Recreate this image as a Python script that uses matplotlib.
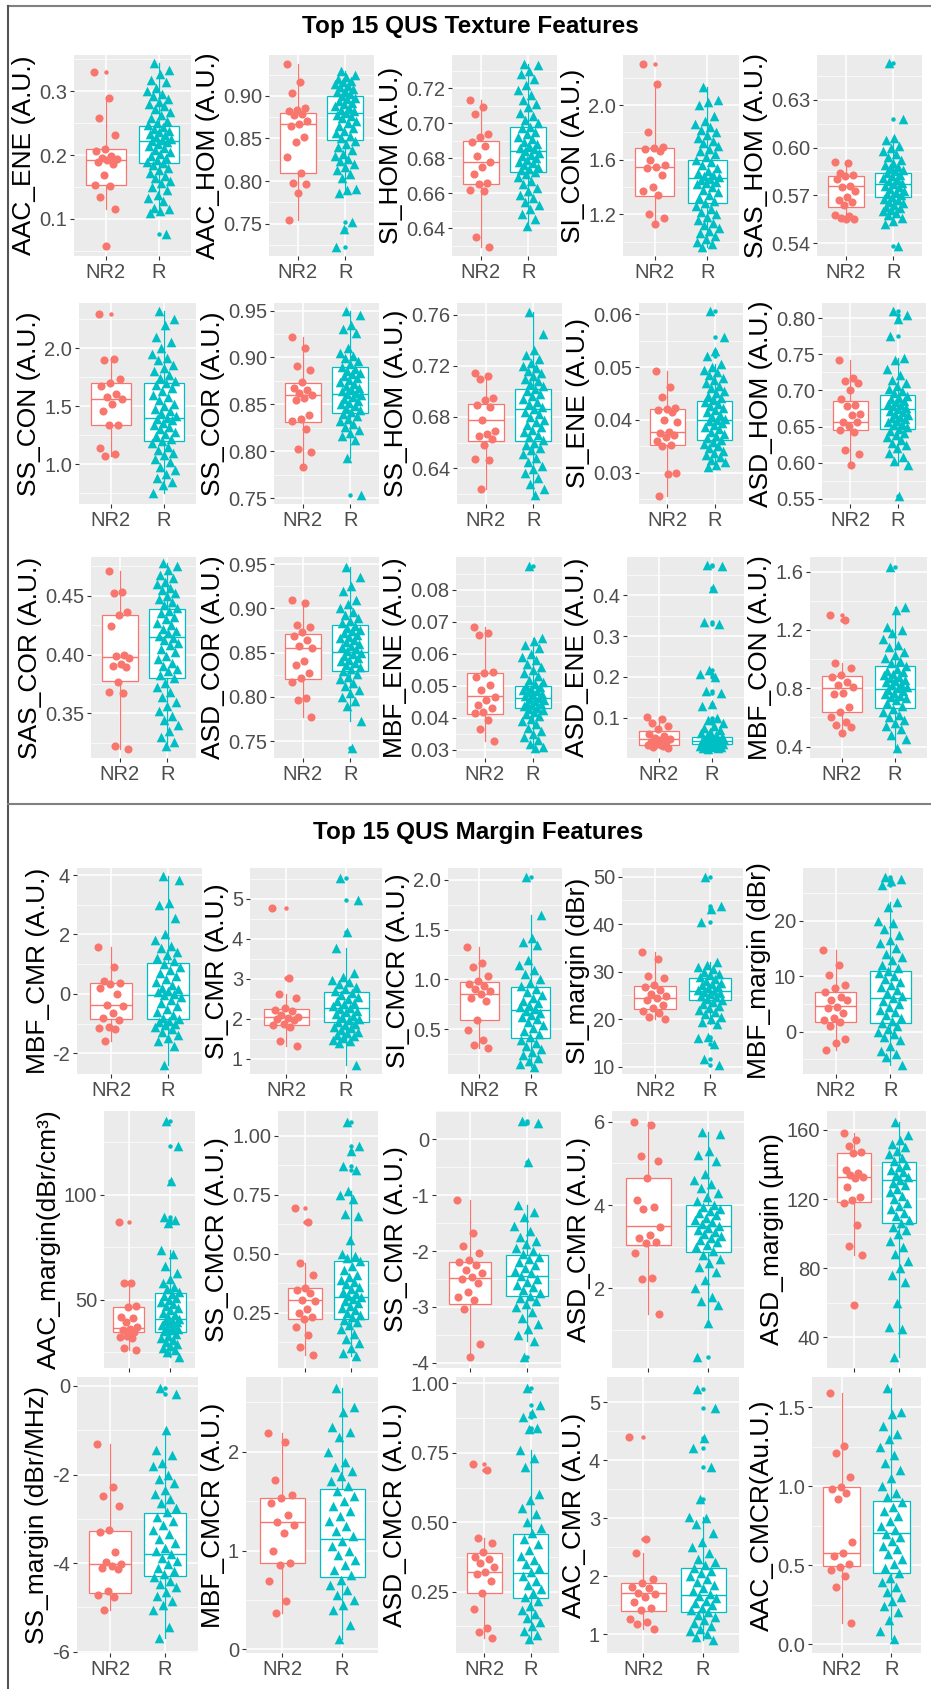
import numpy as np
import matplotlib
matplotlib.use("Agg")
import matplotlib.pyplot as plt
from matplotlib.lines import Line2D

plt.rcParams["font.family"] = ["Liberation Sans", "DejaVu Sans"]

groups = ["NR2", "R"]
NR2_COLOR = "#F8766D"
R_COLOR = "#00BFC4"

# box stats are (lower whisker, q1, median, q3, upper whisker) for NR2 and R

# ---------------- texture features ----------------
aac_ene_nr2 = [0.330, 0.289, 0.258, 0.232, 0.210, 0.206, 0.199, 0.196, 0.194, 0.192, 0.190, 0.186,
               0.169, 0.154, 0.152, 0.134, 0.116, 0.058]
aac_ene_r = [0.344, 0.333, 0.328, 0.318, 0.315, 0.305, 0.300, 0.296, 0.292, 0.288, 0.283, 0.280, 0.277,
             0.272, 0.268, 0.263, 0.258, 0.254, 0.250, 0.247, 0.244, 0.241, 0.238, 0.236, 0.233, 0.231,
             0.228, 0.226, 0.224, 0.222, 0.220, 0.217, 0.214, 0.211, 0.208, 0.205, 0.202, 0.199, 0.196,
             0.193, 0.190, 0.187, 0.184, 0.180, 0.176, 0.172, 0.168, 0.164, 0.160, 0.156, 0.150, 0.145,
             0.138, 0.133, 0.128, 0.118, 0.115, 0.113, 0.110, 0.076]
aac_ene_box = [(0.116, 0.154, 0.193, 0.209, 0.289), (0.110, 0.187, 0.223, 0.245, 0.344)]

aac_hom_nr2 = [0.937, 0.916, 0.903, 0.886, 0.884, 0.882, 0.879, 0.877, 0.871, 0.867, 0.865, 0.852,
               0.846, 0.828, 0.809, 0.798, 0.797, 0.786, 0.754]
aac_hom_r = [0.929, 0.925, 0.922, 0.920, 0.918, 0.916, 0.914, 0.912, 0.910, 0.908, 0.906, 0.904, 0.902,
             0.900, 0.898, 0.896, 0.894, 0.892, 0.890, 0.888, 0.886, 0.884, 0.882, 0.880, 0.878, 0.876,
             0.874, 0.871, 0.868, 0.865, 0.862, 0.859, 0.856, 0.853, 0.850, 0.847, 0.844, 0.840, 0.836,
             0.832, 0.829, 0.826, 0.823, 0.820, 0.817, 0.813, 0.808, 0.803, 0.791, 0.789, 0.786, 0.752,
             0.744, 0.722]
aac_hom_box = [(0.754, 0.809, 0.867, 0.880, 0.937), (0.786, 0.848, 0.880, 0.900, 0.929)]

si_hom_nr2 = [0.713, 0.709, 0.705, 0.694, 0.692, 0.689, 0.687, 0.681, 0.678, 0.675, 0.671, 0.666,
              0.665, 0.662, 0.661, 0.635, 0.629]
si_hom_r = [0.734, 0.733, 0.730, 0.728, 0.725, 0.722, 0.719, 0.716, 0.713, 0.711, 0.709, 0.706, 0.704,
            0.702, 0.700, 0.698, 0.697, 0.695, 0.694, 0.692, 0.691, 0.689, 0.688, 0.687, 0.686, 0.685,
            0.684, 0.683, 0.682, 0.681, 0.680, 0.679, 0.678, 0.677, 0.676, 0.675, 0.674, 0.673, 0.672,
            0.671, 0.669, 0.667, 0.665, 0.663, 0.661, 0.659, 0.657, 0.655, 0.653, 0.651, 0.648, 0.645,
            0.641]
si_hom_box = [(0.629, 0.665, 0.6775, 0.690, 0.713), (0.641, 0.672, 0.684, 0.698, 0.734)]

si_con_nr2 = [2.30, 2.154, 1.80, 1.69, 1.685, 1.68, 1.66, 1.60, 1.56, 1.545, 1.54, 1.49, 1.40, 1.37,
              1.34, 1.20, 1.17, 1.13]
si_con_r = [2.13, 2.04, 2.02, 2.00, 1.92, 1.88, 1.86, 1.84, 1.82, 1.80, 1.78, 1.76, 1.74, 1.72, 1.70,
            1.68, 1.66, 1.64, 1.62, 1.60, 1.58, 1.56, 1.54, 1.52, 1.50, 1.49, 1.48, 1.47, 1.46, 1.45,
            1.44, 1.43, 1.42, 1.40, 1.38, 1.36, 1.34, 1.32, 1.30, 1.28, 1.26, 1.24, 1.22, 1.20, 1.18,
            1.16, 1.14, 1.12, 1.10, 1.08, 1.06, 1.04, 1.02, 1.00, 0.98, 0.96]
si_con_box = [(1.13, 1.337, 1.544, 1.688, 2.154), (0.96, 1.285, 1.463, 1.598, 2.13)]

sas_hom_nr2 = [0.591, 0.590, 0.584, 0.583, 0.582, 0.580, 0.576, 0.575, 0.573, 0.569, 0.567, 0.566,
               0.564, 0.558, 0.557, 0.556, 0.555, 0.555]
sas_hom_r = [0.653, 0.618, 0.606, 0.605, 0.601, 0.600, 0.598, 0.596, 0.594, 0.592, 0.590, 0.589, 0.588,
             0.587, 0.586, 0.585, 0.584, 0.583, 0.582, 0.581, 0.580, 0.579, 0.578, 0.577, 0.576, 0.575,
             0.574, 0.573, 0.572, 0.571, 0.570, 0.569, 0.568, 0.567, 0.566, 0.565, 0.564, 0.563, 0.562,
             0.561, 0.560, 0.559, 0.558, 0.556, 0.554, 0.552, 0.538]
sas_hom_box = [(0.555, 0.563, 0.576, 0.582, 0.591), (0.552, 0.569, 0.577, 0.584, 0.606)]

ss_con_nr2 = [2.293, 1.91, 1.90, 1.733, 1.70, 1.675, 1.61, 1.58, 1.56, 1.52, 1.46, 1.34, 1.335, 1.14,
              1.09, 1.075]
ss_con_r = [2.32, 2.25, 2.20, 2.10, 2.05, 2.00, 1.95, 1.92, 1.90, 1.86, 1.83, 1.80, 1.77, 1.74, 1.72,
            1.70, 1.68, 1.66, 1.63, 1.60, 1.58, 1.55, 1.52, 1.50, 1.48, 1.46, 1.44, 1.42, 1.40, 1.39,
            1.38, 1.36, 1.34, 1.32, 1.30, 1.28, 1.26, 1.24, 1.22, 1.20, 1.18, 1.15, 1.12, 1.10, 1.08,
            1.05, 1.02, 0.98, 0.95, 0.92, 0.88, 0.85, 0.82, 0.75]
ss_con_box = [(1.075, 1.339, 1.56, 1.70, 1.91), (0.75, 1.204, 1.396, 1.70, 2.32)]

ss_cor_nr2 = [0.922, 0.910, 0.891, 0.887, 0.874, 0.868, 0.865, 0.862, 0.860, 0.857, 0.855, 0.839,
              0.834, 0.832, 0.824, 0.803, 0.799, 0.783]
ss_cor_r = [0.950, 0.945, 0.935, 0.930, 0.926, 0.910, 0.905, 0.902, 0.899, 0.896, 0.893, 0.890, 0.888,
            0.886, 0.884, 0.882, 0.880, 0.878, 0.876, 0.874, 0.872, 0.870, 0.868, 0.866, 0.864, 0.862,
            0.861, 0.860, 0.858, 0.856, 0.854, 0.852, 0.850, 0.848, 0.846, 0.844, 0.842, 0.840, 0.838,
            0.835, 0.832, 0.829, 0.826, 0.823, 0.820, 0.816, 0.812, 0.793, 0.754]
ss_cor_box = [(0.783, 0.831, 0.860, 0.873, 0.922), (0.793, 0.841, 0.861, 0.890, 0.950)]

ss_hom_nr2 = [0.714, 0.712, 0.710, 0.695, 0.693, 0.689, 0.688, 0.678, 0.669, 0.667, 0.665, 0.663,
              0.658, 0.647, 0.646, 0.624]
ss_hom_r = [0.762, 0.745, 0.732, 0.728, 0.725, 0.722, 0.720, 0.718, 0.716, 0.714, 0.712, 0.710, 0.708,
            0.706, 0.704, 0.702, 0.700, 0.698, 0.696, 0.694, 0.692, 0.690, 0.688, 0.686, 0.684, 0.682,
            0.680, 0.678, 0.676, 0.674, 0.672, 0.670, 0.668, 0.666, 0.664, 0.662, 0.660, 0.658, 0.656,
            0.654, 0.651, 0.648, 0.645, 0.642, 0.639, 0.636, 0.632, 0.628, 0.624, 0.619]
ss_hom_box = [(0.624, 0.661, 0.678, 0.690, 0.714), (0.619, 0.661, 0.686, 0.702, 0.762)]

si_ene_nr2 = [0.0493, 0.0462, 0.0444, 0.0422, 0.0420, 0.0418, 0.0414, 0.0400, 0.0396, 0.0377, 0.0375,
              0.0371, 0.0368, 0.0360, 0.0352, 0.0350, 0.0300, 0.0297, 0.0256]
si_ene_r = [0.0605, 0.0556, 0.0530, 0.0520, 0.0505, 0.0500, 0.0495, 0.0490, 0.0485, 0.0480, 0.0475,
            0.0470, 0.0465, 0.0460, 0.0455, 0.0450, 0.0446, 0.0442, 0.0438, 0.0434, 0.0430, 0.0426,
            0.0422, 0.0418, 0.0414, 0.0410, 0.0406, 0.0402, 0.0400, 0.0398, 0.0394, 0.0390, 0.0386,
            0.0382, 0.0378, 0.0374, 0.0370, 0.0366, 0.0362, 0.0358, 0.0354, 0.0350, 0.0346, 0.0342,
            0.0338, 0.0334, 0.0330, 0.0325, 0.0320, 0.0315, 0.0311]
si_ene_box = [(0.0256, 0.0352, 0.0377, 0.0420, 0.0493), (0.0311, 0.0362, 0.0400, 0.0436, 0.0505)]

asd_hom_nr2 = [0.742, 0.717, 0.713, 0.710, 0.701, 0.688, 0.680, 0.678, 0.668, 0.666, 0.657, 0.656,
               0.651, 0.646, 0.643, 0.617, 0.612, 0.597]
asd_hom_r = [0.810, 0.805, 0.799, 0.776, 0.745, 0.742, 0.730, 0.722, 0.715, 0.710, 0.706, 0.702, 0.699,
             0.696, 0.693, 0.690, 0.688, 0.686, 0.684, 0.682, 0.680, 0.678, 0.676, 0.674, 0.672, 0.670,
             0.668, 0.666, 0.664, 0.662, 0.660, 0.658, 0.656, 0.654, 0.652, 0.650, 0.647, 0.644, 0.641,
             0.638, 0.635, 0.632, 0.628, 0.624, 0.620, 0.614, 0.608, 0.602, 0.597, 0.554]
asd_hom_box = [(0.597, 0.6455, 0.6565, 0.686, 0.742), (0.597, 0.647, 0.674, 0.694, 0.745)]

sas_cor_nr2 = [0.471, 0.453, 0.452, 0.436, 0.434, 0.424, 0.400, 0.399, 0.397, 0.392, 0.390, 0.389,
               0.377, 0.368, 0.367, 0.322, 0.320]
sas_cor_r = [0.478, 0.475, 0.472, 0.468, 0.465, 0.462, 0.460, 0.457, 0.455, 0.452, 0.450, 0.447, 0.445,
             0.442, 0.440, 0.437, 0.435, 0.432, 0.430, 0.427, 0.425, 0.422, 0.420, 0.418, 0.416, 0.414,
             0.412, 0.410, 0.408, 0.405, 0.402, 0.399, 0.396, 0.393, 0.390, 0.388, 0.386, 0.383, 0.380,
             0.376, 0.372, 0.368, 0.364, 0.360, 0.356, 0.352, 0.348, 0.344, 0.340, 0.335, 0.330, 0.326,
             0.322]
sas_cor_box = [(0.320, 0.3775, 0.398, 0.434, 0.471), (0.322, 0.380, 0.415, 0.4386, 0.478)]

asd_cor_nr2 = [0.909, 0.906, 0.881, 0.879, 0.873, 0.869, 0.864, 0.857, 0.855, 0.840, 0.836, 0.827,
               0.821, 0.817, 0.799, 0.797, 0.777]
asd_cor_r = [0.947, 0.935, 0.925, 0.920, 0.910, 0.905, 0.900, 0.896, 0.892, 0.889, 0.886, 0.883, 0.880,
             0.878, 0.876, 0.874, 0.872, 0.870, 0.868, 0.866, 0.864, 0.862, 0.860, 0.858, 0.856, 0.854,
             0.852, 0.850, 0.848, 0.846, 0.844, 0.842, 0.840, 0.838, 0.836, 0.834, 0.832, 0.829, 0.826,
             0.823, 0.820, 0.816, 0.812, 0.808, 0.804, 0.800, 0.795, 0.790, 0.773, 0.742]
asd_cor_box = [(0.777, 0.820, 0.8557, 0.871, 0.909), (0.773, 0.829, 0.851, 0.881, 0.947)]

mbf_ene_nr2 = [0.0685, 0.0667, 0.0660, 0.0545, 0.0541, 0.0529, 0.0503, 0.0488, 0.0467, 0.0456, 0.0440,
               0.0430, 0.0420, 0.0415, 0.0394, 0.0365, 0.0329]
mbf_ene_r = [0.0876, 0.0650, 0.0640, 0.0628, 0.0618, 0.0600, 0.0590, 0.0580, 0.0570, 0.0560, 0.0550,
             0.0540, 0.0530, 0.0520, 0.0512, 0.0505, 0.0500, 0.0496, 0.0492, 0.0488, 0.0484, 0.0480,
             0.0476, 0.0472, 0.0468, 0.0464, 0.0460, 0.0456, 0.0452, 0.0448, 0.0444, 0.0440, 0.0436,
             0.0432, 0.0428, 0.0424, 0.0418, 0.0412, 0.0405, 0.0398, 0.0390, 0.0380, 0.0370, 0.0360,
             0.0350, 0.0340, 0.0330, 0.0320, 0.0310, 0.0305]
mbf_ene_box = [(0.0329, 0.0413, 0.0469, 0.0542, 0.0685), (0.0305, 0.0432, 0.0461, 0.0500, 0.0650)]

asd_ene_nr2 = [0.101, 0.097, 0.087, 0.081, 0.073, 0.061, 0.055, 0.051, 0.049, 0.046, 0.042, 0.040,
               0.036, 0.033, 0.031, 0.029, 0.027]
asd_ene_r = [0.474, 0.470, 0.418, 0.335, 0.330, 0.218, 0.208, 0.200, 0.165, 0.160, 0.134, 0.128, 0.100,
             0.095, 0.088, 0.080, 0.075, 0.070, 0.066, 0.062, 0.058, 0.055, 0.053, 0.051, 0.049, 0.047,
             0.046, 0.045, 0.044, 0.043, 0.042, 0.041, 0.040, 0.039, 0.038, 0.037, 0.036, 0.035, 0.034,
             0.033, 0.032, 0.031, 0.030, 0.029, 0.028, 0.027, 0.026, 0.025]
asd_ene_box = [(0.027, 0.0345, 0.0484, 0.067, 0.101), (0.025, 0.036, 0.0443, 0.054, 0.080)]

mbf_con_nr2 = [1.303, 1.269, 0.971, 0.937, 0.891, 0.876, 0.846, 0.823, 0.811, 0.770, 0.761, 0.670,
               0.640, 0.606, 0.571, 0.549, 0.537, 0.491]
mbf_con_r = [1.634, 1.36, 1.34, 1.22, 1.20, 1.18, 1.14, 1.10, 1.08, 1.05, 1.03, 1.01, 0.99, 0.97, 0.95,
             0.93, 0.92, 0.91, 0.90, 0.89, 0.88, 0.87, 0.86, 0.85, 0.84, 0.83, 0.82, 0.81, 0.80, 0.79,
             0.78, 0.77, 0.76, 0.75, 0.74, 0.73, 0.72, 0.70, 0.68, 0.66, 0.64, 0.62, 0.60, 0.58, 0.56,
             0.54, 0.52, 0.48, 0.45, 0.39]
mbf_con_box = [(0.491, 0.640, 0.80, 0.887, 0.971), (0.39, 0.663, 0.793, 0.955, 1.36)]

# ---------------- margin features ----------------
mbf_cmr_nr2 = [1.59, 0.89, 0.43, 0.38, 0.33, 0.19, 0.00, -0.37, -0.41, -0.66, -0.82, -0.88, -1.13,
               -1.16, -1.19, -1.58]
mbf_cmr_r = [3.97, 3.82, 3.05, 3.00, 2.55, 2.00, 1.80, 1.60, 1.55, 1.40, 1.30, 1.20, 1.10, 1.00, 0.90,
             0.80, 0.70, 0.60, 0.50, 0.40, 0.30, 0.20, 0.15, 0.10, 0.05, 0.00, -0.05, -0.10, -0.20,
             -0.30, -0.40, -0.50, -0.60, -0.70, -0.80, -0.85, -0.90, -0.95, -1.00, -1.05, -1.10, -1.20,
             -1.30, -1.40, -1.50, -1.60, -1.75, -2.39]
mbf_cmr_box = [(-1.58, -0.857, -0.37, 0.354, 1.59), (-2.39, -0.857, -0.04, 1.027, 3.97)]

si_cmr_nr2 = [4.78, 3.02, 2.63, 2.52, 2.26, 2.22, 2.20, 2.10, 2.05, 2.02, 1.99, 1.97, 1.88, 1.85, 1.80,
              1.45, 1.33]
si_cmr_r = [5.52, 4.98, 4.17, 3.76, 3.15, 3.05, 2.98, 2.92, 2.86, 2.80, 2.75, 2.70, 2.65, 2.60, 2.55,
            2.50, 2.45, 2.40, 2.36, 2.32, 2.28, 2.24, 2.20, 2.16, 2.12, 2.08, 2.04, 2.00, 1.96, 1.92,
            1.88, 1.84, 1.80, 1.76, 1.72, 1.68, 1.64, 1.60, 1.56, 1.52, 1.48, 1.44, 1.40, 0.84]
si_cmr_box = [(1.33, 1.84, 2.05, 2.24, 2.63), (0.84, 1.91, 2.26, 2.667, 3.76)]

si_cmcr_nr2 = [1.33, 1.17, 1.13, 1.03, 0.98, 0.95, 0.93, 0.90, 0.88, 0.85, 0.81, 0.78, 0.59, 0.49, 0.39,
               0.34, 0.31]
si_cmcr_r = [2.03, 1.65, 1.42, 1.38, 1.35, 1.20, 1.15, 1.10, 1.05, 1.00, 0.96, 0.93, 0.90, 0.87, 0.84,
             0.81, 0.78, 0.76, 0.74, 0.72, 0.70, 0.68, 0.66, 0.64, 0.62, 0.60, 0.57, 0.54, 0.51, 0.48,
             0.45, 0.42, 0.39, 0.36, 0.33, 0.30, 0.27, 0.24, 0.21, 0.18, 0.15, 0.12]
si_cmcr_box = [(0.31, 0.593, 0.855, 0.979, 1.33), (0.12, 0.41, 0.694, 0.928, 1.65)]

si_margin_nr2 = [34.1, 32.7, 29.0, 28.6, 27.1, 26.7, 26.1, 25.4, 24.9, 24.5, 24.0, 23.0, 22.3, 21.8,
                 21.2, 20.5, 20.0]
si_margin_r = [49.9, 43.9, 43.3, 40.5, 32.0, 31.5, 31.0, 30.5, 30.0, 29.6, 29.2, 28.8, 28.4, 28.0, 27.7,
               27.4, 27.1, 26.8, 26.5, 26.2, 26.0, 25.8, 25.5, 25.2, 24.9, 24.6, 24.3, 24.0, 23.6, 23.2,
               22.8, 22.4, 22.0, 21.5, 21.0, 20.5, 20.0, 19.5, 19.0, 16.3, 16.0, 14.8, 11.7, 10.4]
si_margin_box = [(20.0, 22.07, 24.5, 27.05, 34.1), (19.0, 24.03, 26.0, 28.73, 32.0)]

mbf_margin_nr2 = [14.7, 12.0, 10.2, 8.4, 7.9, 7.2, 6.3, 5.8, 5.7, 4.4, 4.2, 3.3, 2.4, 2.1, 1.8, 1.0,
                  -1.4, -2.0, -3.3]
mbf_margin_r = [27.9, 27.5, 27.2, 26.4, 23.4, 22.5, 20.0, 19.5, 18.5, 17.5, 16.5, 16.0, 15.0, 14.0, 13.5,
                13.0, 12.0, 11.5, 11.0, 10.5, 10.0, 9.5, 9.0, 8.5, 8.0, 7.5, 7.0, 6.5, 6.0, 5.5, 5.0,
                4.5, 4.0, 3.5, 3.0, 2.5, 2.0, 1.5, 1.0, 0.5, 0.0, -0.5, -1.0, -1.5, -2.5, -3.5, -4.0,
                -4.5, -6.0]
mbf_margin_box = [(-3.3, 1.8, 4.7, 7.2, 14.7), (-6.0, 1.6, 6.0, 11.0, 23.4)]

aac_margin_nr2 = [87.1, 58.3, 57.9, 47.1, 46.5, 41.7, 41.3, 39.7, 37.0, 36.0, 35.7, 34.9, 32.9, 32.2,
                  31.7, 27.0, 26.2]
aac_margin_r = [135.0, 123.5, 106.5, 89.5, 88.0, 86.5, 74.0, 72.0, 66.0, 63.0, 60.0, 58.0, 56.0, 55.0,
                54.0, 53.0, 52.0, 51.0, 50.0, 49.0, 48.0, 47.0, 46.0, 45.0, 44.0, 43.0, 42.0, 41.0, 40.5,
                40.0, 39.5, 39.0, 38.0, 37.0, 36.5, 36.0, 35.5, 35.0, 34.0, 33.0, 32.0, 31.0, 30.0, 29.0,
                28.0, 27.0, 26.0, 25.0, 23.0]
aac_margin_box = [(26.2, 34.9, 36.5, 46.8, 58.3), (23.0, 34.9, 40.8, 53.5, 74.0)]

ss_cmcr_nr2 = [0.696, 0.636, 0.463, 0.412, 0.357, 0.346, 0.332, 0.306, 0.300, 0.268, 0.250, 0.233,
               0.222, 0.191, 0.155, 0.103, 0.070]
ss_cmcr_r = [1.06, 0.955, 0.935, 0.870, 0.855, 0.765, 0.750, 0.730, 0.670, 0.660, 0.560, 0.500, 0.490,
             0.480, 0.470, 0.450, 0.430, 0.410, 0.400, 0.390, 0.380, 0.370, 0.360, 0.350, 0.340, 0.330,
             0.320, 0.315, 0.310, 0.300, 0.290, 0.280, 0.270, 0.260, 0.250, 0.240, 0.230, 0.220, 0.210,
             0.200, 0.180, 0.160, 0.140, 0.120, 0.100, 0.080, 0.065]
ss_cmcr_box = [(0.070, 0.223, 0.306, 0.353, 0.463), (0.065, 0.223, 0.315, 0.470, 0.765)]

ss_cmr_nr2 = [-1.09, -1.67, -1.91, -2.04, -2.16, -2.20, -2.25, -2.34, -2.39, -2.47, -2.50, -2.58, -2.73,
              -2.82, -2.88, -3.04, -3.67, -3.90]
ss_cmr_r = [0.32, 0.30, -0.40, -1.18, -1.30, -1.40, -1.55, -1.65, -1.75, -1.82, -1.88, -1.94, -2.00,
            -2.05, -2.10, -2.15, -2.20, -2.25, -2.30, -2.35, -2.40, -2.45, -2.50, -2.55, -2.60, -2.65,
            -2.70, -2.75, -2.80, -2.85, -2.90, -2.95, -3.00, -3.10, -3.20, -3.30, -3.40, -3.50, -3.62,
            -3.89]
ss_cmr_box = [(-3.90, -2.95, -2.48, -2.19, -1.09), (-3.62, -2.80, -2.45, -2.07, -1.18)]

asd_cmr_nr2 = [6.00, 5.92, 5.18, 5.06, 4.64, 4.12, 3.96, 3.90, 3.48, 3.28, 3.22, 3.12, 3.08, 2.84, 2.24,
               2.22, 1.38]
asd_cmr_r = [5.76, 5.70, 5.30, 5.20, 5.05, 4.75, 4.60, 4.50, 4.40, 4.30, 4.20, 4.10, 4.00, 3.95, 3.90,
             3.85, 3.80, 3.75, 3.70, 3.65, 3.60, 3.55, 3.50, 3.45, 3.40, 3.35, 3.30, 3.25, 3.20, 3.15,
             3.10, 3.05, 3.00, 2.90, 2.80, 2.70, 2.60, 2.50, 2.40, 2.20, 2.00, 1.80, 1.70, 1.60, 1.16,
             0.36]
asd_cmr_box = [(1.38, 3.04, 3.50, 4.64, 6.00), (1.16, 2.86, 3.50, 4.00, 5.76)]

asd_margin_nr2 = [158.1, 154.2, 150.7, 147.5, 146.9, 136.8, 135.3, 134.0, 132.6, 132.0, 127.2, 121.0,
                  119.5, 118.0, 105.0, 92.8, 87.6, 58.7]
asd_margin_r = [164.8, 157.0, 154.0, 152.0, 150.0, 148.0, 146.0, 144.0, 142.0, 140.0, 138.5, 137.0,
                135.5, 134.0, 132.5, 131.0, 129.5, 128.0, 126.0, 124.0, 122.0, 120.0, 118.0, 116.0, 114.0,
                112.0, 110.0, 108.0, 106.0, 104.0, 102.0, 100.0, 96.0, 92.0, 88.0, 84.0, 80.0, 76.0,
                72.0, 60.0, 46.0, 45.0, 28.8]
asd_margin_box = [(87.6, 118.1, 132.6, 146.9, 158.1), (28.8, 106.0, 131.1, 141.7, 164.8)]

ss_margin_nr2 = [-1.31, -2.29, -2.48, -2.71, -3.25, -3.29, -3.76, -3.98, -4.02, -4.06, -4.10, -4.14,
                 -4.64, -4.72, -4.76, -5.07]
ss_margin_r = [-0.05, -0.17, -0.99, -1.45, -1.55, -1.75, -1.80, -2.00, -2.10, -2.20, -2.35, -2.45,
               -2.55, -2.65, -2.75, -2.85, -2.95, -3.05, -3.15, -3.25, -3.35, -3.45, -3.55, -3.65,
               -3.72, -3.80, -3.88, -3.95, -4.02, -4.10, -4.18, -4.25, -4.32, -4.40, -4.48, -4.55,
               -4.65, -4.75, -4.85, -4.95, -5.05, -5.45, -5.70]
ss_margin_box = [(-5.07, -4.68, -4.02, -3.27, -1.31), (-5.70, -4.29, -3.80, -2.86, -0.99)]

mbf_cmcr_nr2 = [2.19, 2.10, 1.71, 1.56, 1.53, 1.48, 1.36, 1.29, 1.26, 1.18, 1.00, 0.87, 0.85, 0.69,
                0.49, 0.37]
mbf_cmcr_r = [2.64, 2.45, 2.40, 2.25, 2.20, 2.15, 2.00, 1.90, 1.85, 1.80, 1.75, 1.70, 1.65, 1.60, 1.55,
              1.50, 1.45, 1.40, 1.35, 1.30, 1.25, 1.20, 1.15, 1.10, 1.05, 1.00, 0.95, 0.90, 0.85, 0.80,
              0.75, 0.70, 0.65, 0.60, 0.55, 0.50, 0.45, 0.40, 0.25, 0.10]
mbf_cmcr_box = [(0.37, 0.87, 1.29, 1.53, 2.19), (0.10, 0.735, 1.12, 1.62, 2.64)]

asd_cmcr_nr2 = [0.709, 0.688, 0.442, 0.424, 0.394, 0.376, 0.366, 0.352, 0.340, 0.322, 0.314, 0.290,
                0.244, 0.186, 0.118, 0.106, 0.082]
asd_cmcr_r = [0.982, 0.922, 0.895, 0.880, 0.840, 0.835, 0.760, 0.730, 0.700, 0.600, 0.580, 0.550, 0.530,
              0.500, 0.480, 0.460, 0.440, 0.420, 0.400, 0.380, 0.365, 0.350, 0.335, 0.320, 0.305,
              0.290, 0.275, 0.260, 0.245, 0.230, 0.215, 0.200, 0.185, 0.170, 0.155, 0.140, 0.125,
              0.110, 0.095, 0.080]
asd_cmcr_box = [(0.082, 0.246, 0.320, 0.390, 0.442), (0.080, 0.226, 0.318, 0.458, 0.760)]

aac_cmr_nr2 = [4.41, 2.64, 2.40, 1.95, 1.89, 1.82, 1.79, 1.72, 1.70, 1.65, 1.56, 1.45, 1.42, 1.26, 1.22,
               1.18, 1.10]
aac_cmr_r = [5.23, 4.91, 4.38, 4.22, 3.89, 3.34, 3.03, 3.00, 2.90, 2.75, 2.60, 2.50, 2.40, 2.30, 2.25,
             2.20, 2.15, 2.10, 2.05, 2.00, 1.95, 1.90, 1.85, 1.80, 1.75, 1.70, 1.66, 1.62, 1.58, 1.54,
             1.50, 1.46, 1.42, 1.38, 1.34, 1.30, 1.25, 1.20, 1.15, 1.10, 1.05, 1.00, 0.95, 0.90]
aac_cmr_box = [(1.10, 1.40, 1.71, 1.89, 2.40), (0.90, 1.38, 1.67, 2.14, 3.03)]

aac_cmcr_nr2 = [1.589, 1.255, 1.208, 1.061, 0.997, 0.980, 0.955, 0.917, 0.649, 0.579, 0.560, 0.507,
                0.490, 0.469, 0.431, 0.364, 0.131]
aac_cmcr_r = [1.62, 1.47, 1.46, 1.38, 1.33, 1.30, 1.25, 1.20, 1.15, 1.10, 1.05, 1.00, 0.96, 0.93, 0.90,
              0.87, 0.84, 0.81, 0.78, 0.75, 0.72, 0.70, 0.68, 0.65, 0.62, 0.60, 0.57, 0.54, 0.51, 0.48,
              0.45, 0.42, 0.39, 0.36, 0.33, 0.30, 0.27, 0.24, 0.20, 0.15, 0.08, 0.03]
aac_cmcr_box = [(0.131, 0.494, 0.579, 0.993, 1.589), (0.03, 0.452, 0.701, 0.909, 1.62)]

texture_panels = [
    ("AAC_ENE (A.U.)", aac_ene_nr2, aac_ene_r, aac_ene_box, ["0.1", "0.2", "0.3"]),
    ("AAC_HOM (A.U.)", aac_hom_nr2, aac_hom_r, aac_hom_box, ["0.75", "0.80", "0.85", "0.90"]),
    ("SI_HOM (A.U.)", si_hom_nr2, si_hom_r, si_hom_box, ["0.64", "0.66", "0.68", "0.70", "0.72"]),
    ("SI_CON (A.U.)", si_con_nr2, si_con_r, si_con_box, ["1.2", "1.6", "2.0"]),
    ("SAS_HOM (A.U.)", sas_hom_nr2, sas_hom_r, sas_hom_box, ["0.54", "0.57", "0.60", "0.63"]),
    ("SS_CON (A.U.)", ss_con_nr2, ss_con_r, ss_con_box, ["1.0", "1.5", "2.0"]),
    ("SS_COR (A.U.)", ss_cor_nr2, ss_cor_r, ss_cor_box, ["0.75", "0.80", "0.85", "0.90", "0.95"]),
    ("SS_HOM (A.U.)", ss_hom_nr2, ss_hom_r, ss_hom_box, ["0.64", "0.68", "0.72", "0.76"]),
    ("SI_ENE (A.U.)", si_ene_nr2, si_ene_r, si_ene_box, ["0.03", "0.04", "0.05", "0.06"]),
    ("ASD_HOM (A.U.)", asd_hom_nr2, asd_hom_r, asd_hom_box, ["0.55", "0.60", "0.65", "0.70", "0.75", "0.80"]),
    ("SAS_COR (A.U.)", sas_cor_nr2, sas_cor_r, sas_cor_box, ["0.35", "0.40", "0.45"]),
    ("ASD_COR (A.U.)", asd_cor_nr2, asd_cor_r, asd_cor_box, ["0.75", "0.80", "0.85", "0.90", "0.95"]),
    ("MBF_ENE (A.U.)", mbf_ene_nr2, mbf_ene_r, mbf_ene_box, ["0.03", "0.04", "0.05", "0.06", "0.07", "0.08"]),
    ("ASD_ENE (A.U.)", asd_ene_nr2, asd_ene_r, asd_ene_box, ["0.1", "0.2", "0.3", "0.4"]),
    ("MBF_CON (A.U.)", mbf_con_nr2, mbf_con_r, mbf_con_box, ["0.4", "0.8", "1.2", "1.6"]),
]

margin_panels = [
    ("MBF_CMR (A.U.)", mbf_cmr_nr2, mbf_cmr_r, mbf_cmr_box, ["-2", "0", "2", "4"]),
    ("SI_CMR (A.U.)", si_cmr_nr2, si_cmr_r, si_cmr_box, ["1", "2", "3", "4", "5"]),
    ("SI_CMCR (A.U.)", si_cmcr_nr2, si_cmcr_r, si_cmcr_box, ["0.5", "1.0", "1.5", "2.0"]),
    ("SI_margin (dBr)", si_margin_nr2, si_margin_r, si_margin_box, ["10", "20", "30", "40", "50"]),
    ("MBF_margin (dBr)", mbf_margin_nr2, mbf_margin_r, mbf_margin_box, ["0", "10", "20"]),
    ("AAC_margin(dBr/cm³)", aac_margin_nr2, aac_margin_r, aac_margin_box, ["50", "100"]),
    ("SS_CMCR (A.U.)", ss_cmcr_nr2, ss_cmcr_r, ss_cmcr_box, ["0.25", "0.50", "0.75", "1.00"]),
    ("SS_CMR (A.U.)", ss_cmr_nr2, ss_cmr_r, ss_cmr_box, ["-4", "-3", "-2", "-1", "0"]),
    ("ASD_CMR (A.U.)", asd_cmr_nr2, asd_cmr_r, asd_cmr_box, ["2", "4", "6"]),
    ("ASD_margin (µm)", asd_margin_nr2, asd_margin_r, asd_margin_box, ["40", "80", "120", "160"]),
    ("SS_margin (dBr/MHz)", ss_margin_nr2, ss_margin_r, ss_margin_box, ["-6", "-4", "-2", "0"]),
    ("MBF_CMCR (A.U.)", mbf_cmcr_nr2, mbf_cmcr_r, mbf_cmcr_box, ["0", "1", "2"]),
    ("ASD_CMCR (A.U.)", asd_cmcr_nr2, asd_cmcr_r, asd_cmcr_box, ["0.25", "0.50", "0.75", "1.00"]),
    ("AAC_CMR (A.U.)", aac_cmr_nr2, aac_cmr_r, aac_cmr_box, ["1", "2", "3", "4", "5"]),
    ("AAC_CMCR(Au.U.)", aac_cmcr_nr2, aac_cmcr_r, aac_cmcr_box, ["0.0", "0.5", "1.0", "1.5"]),
]

# ---------------- layout (pixels) ----------------
W, H = 931, 1689

texture_ylims = [(0.042, 0.357), (0.712, 0.948), (0.624, 0.739), (0.895, 2.366), (0.532, 0.658),
                 (0.658, 2.39), (0.744, 0.958), (0.612, 0.769), (0.0241, 0.0621), (0.543, 0.821),
                 (0.312, 0.483), (0.731, 0.958), (0.0275, 0.0903), (0.002, 0.493), (0.322, 1.70)]
margin_ylims = [(-2.70, 4.24), (0.62, 5.77), (0.05, 2.12), (8.46, 51.83), (-7.62, 29.5),
                (17.6, 140), (0.016, 1.105), (-4.095, 0.507), (0.087, 6.257), (22.2, 171),
                (-6.03, 0.203), (-0.037, 2.756), (0.029, 1.023), (0.678, 5.436), (-0.057, 1.692)]

texture_rows = [(55, 256), (303, 504), (557, 758)]
texture_cols = [[(74, 191), (269, 374), (452, 557), (623, 739), (817, 922)],
                [(79, 196), (274, 379), (457, 562), (639, 743), (822, 926)],
                [(91, 196), (274, 379), (456, 562), (627, 744), (810, 927)]]
margin_rows = [(868, 1074), (1111, 1368), (1377, 1653)]
margin_cols = [[(77, 202), (250, 382), (448, 562), (622, 743), (803, 923)],
               [(104, 195), (278, 378), (436, 561), (612, 744), (827, 926)],
               [(77, 198), (246, 378), (456, 559), (607, 739), (812, 921)]]


def rect(x0, x1, y0, y1):
    return [x0 / W, 1 - y1 / H, (x1 - x0) / W, (y1 - y0) / H]


def draw_panel(ax, label, nr2, r, box, ticks, ylim, show_xlabels=True):
    ax.set_facecolor("#EBEBEB")
    for s in ax.spines.values():
        s.set_visible(False)

    stats = []
    for vals, b in zip((nr2, r), box):
        lo, q1, med, q3, hi = b
        fl = [v for v in vals if v < lo - 1e-9 or v > hi + 1e-9]
        stats.append(dict(whislo=lo, q1=q1, med=med, q3=q3, whishi=hi, fliers=fl))
    bp = ax.bxp(stats, positions=[1, 2], widths=0.75, showcaps=False, patch_artist=True,
                manage_ticks=False, zorder=2)
    for i, color in enumerate((NR2_COLOR, R_COLOR)):
        bp["boxes"][i].set(facecolor="white", edgecolor=color, linewidth=0.9)
        bp["medians"][i].set(color=color, linewidth=1.0)
        for w in bp["whiskers"][2 * i:2 * i + 2]:
            w.set(color=color, linewidth=0.9)
        bp["fliers"][i].set(marker="o", markersize=2.2, markerfacecolor=color,
                            markeredgecolor=color)

    for i, (vals, color, marker, size) in enumerate(((nr2, NR2_COLOR, "o", 34), (r, R_COLOR, "^", 48))):
        n = len(vals)
        off = ((np.arange(n) * 0.618034 + 0.3 * i) % 1 - 0.5) * 0.46
        ax.scatter(i + 1 + off, vals, s=size, color=color, marker=marker, linewidths=0, zorder=3)

    tvals = [float(t) for t in ticks]
    step = tvals[1] - tvals[0]
    minors = [tvals[0] - step / 2 + k * step for k in range(len(tvals) + 2)]
    minors = [m for m in minors if ylim[0] < m < ylim[1]]
    ax.set_yticks(tvals)
    ax.set_yticklabels(ticks)
    ax.set_yticks(minors, minor=True)
    ax.set_xticks([1, 2])
    ax.set_xticklabels(groups if show_xlabels else [])
    ax.set_xlim(0.4, 2.6)
    ax.set_ylim(*ylim)
    ax.grid(which="major", color="white", linewidth=1.1, zorder=0)
    ax.grid(which="minor", axis="y", color="white", linewidth=0.5, zorder=0)
    ax.set_axisbelow(True)
    ax.tick_params(which="major", length=3, width=0.8, color="#333333", labelcolor="#4D4D4D",
                   labelsize=14.5, pad=2)
    ax.tick_params(which="minor", length=0)
    ax.set_ylabel(label, fontsize=19, color="black", labelpad=2)


fig = plt.figure(figsize=(W / 100, H / 100), dpi=100)

for k, (label, nr2, r, box, ticks) in enumerate(texture_panels):
    row, col = divmod(k, 5)
    y0, y1 = texture_rows[row]
    x0, x1 = texture_cols[row][col]
    ax = fig.add_axes(rect(x0, x1, y0, y1))
    draw_panel(ax, label, nr2, r, box, ticks, texture_ylims[k])

for k, (label, nr2, r, box, ticks) in enumerate(margin_panels):
    row, col = divmod(k, 5)
    y0, y1 = margin_rows[row]
    x0, x1 = margin_cols[row][col]
    ax = fig.add_axes(rect(x0, x1, y0, y1))
    draw_panel(ax, label, nr2, r, box, ticks, margin_ylims[k], show_xlabels=(row != 1))

fig.text(470 / W, 1 - 27 / H, "Top 15 QUS Texture Features", ha="center", va="center",
         fontsize=17.5, fontweight="bold")
fig.text(478 / W, 1 - 832 / H, "Top 15 QUS Margin Features", ha="center", va="center",
         fontsize=17.5, fontweight="bold")

# frame lines
fig.add_artist(Line2D([8 / W, 1], [1 - 6 / H, 1 - 6 / H], color="#808080", linewidth=1.5))
fig.add_artist(Line2D([8 / W, 8 / W], [0, 1 - 6 / H], color="#555555", linewidth=1.5))
fig.add_artist(Line2D([8 / W, 1], [1 - 804 / H, 1 - 804 / H], color="#808080", linewidth=1.5))

fig.savefig("out.png", dpi=100)
